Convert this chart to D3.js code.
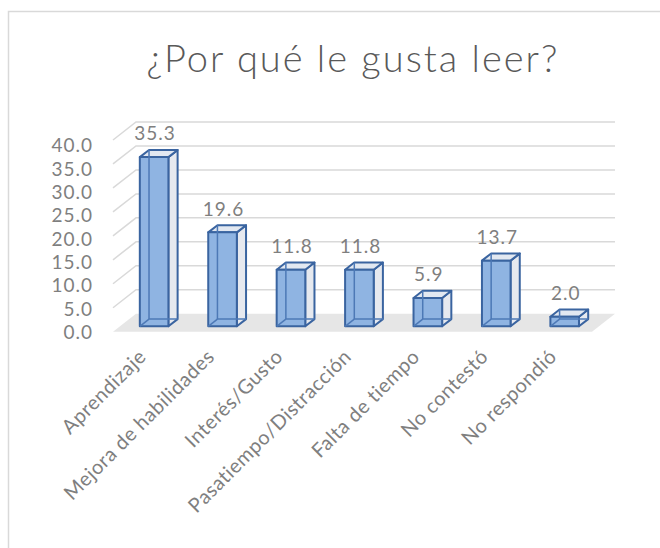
<!DOCTYPE html>
<html>
<head>
<meta charset="utf-8">
<script src="https://cdn.jsdelivr.net/npm/d3@7"></script>
<style>
  html, body { margin: 0; padding: 0; background: #fff; }
  svg { display: block; font-family: Lato, "Open Sans", sans-serif; }
</style>
</head>
<body>
<div id="chart"></div>
<script>

// chart data
const categories = ["Aprendizaje", "Mejora de habilidades", "Interés/Gusto", "Pasatiempo/Distracción",
  "Falta de tiempo", "No contestó", "No respondió"];
const values = [35.3, 19.6, 11.8, 11.8, 5.9, 13.7, 2.0];
const yTicks = [0, 5, 10, 15, 20, 25, 30, 35, 40];
const title = "¿Por qué le gusta leer?";

const W = 660, H = 548;
const textColor = "#7f7f7f";

// oblique depth of the 3D box (full depth of the floor)
const depthX = 23, depthY = -18;
const barD0 = 0.3, barD1 = 0.7;

function proj(x, y, d) {
  return [x + depthX * d, y + depthY * d];
}

function poly(points) {
  return points.map(p => p.join(",")).join(" ");
}

const svg = d3.select("#chart").append("svg")
  .attr("width", W)
  .attr("height", H);

// chart area frame
svg.append("rect")
  .attr("x", 8.5).attr("y", 11.5)
  .attr("width", 720).attr("height", 600)
  .attr("fill", "#fff")
  .attr("stroke", "#d9d9d9")
  .attr("stroke-width", 1.5);

svg.append("text")
  .attr("x", 353)
  .attr("y", 72)
  .attr("text-anchor", "middle")
  .style("font-size", "38px")
  .style("font-weight", 300)
  .style("letter-spacing", "2px")
  .style("fill", "#595959")
  .text(title);

var x = d3.scaleBand().domain(categories).range([113, 592]).paddingInner(0.582).paddingOuter(0.291);
var y = d3.scaleLinear().domain([0, 40]).range([331.7, 140]);
// the value labels of the axis sit a bit lower than the grid (3D perspective)
var yLabel = d3.scaleLinear().domain([0, 40]).range([331.7, 145]);

// floor
svg.append("polygon")
  .attr("points", poly([proj(113, y(0), 0), proj(592, y(0), 0), proj(592, y(0), 1), proj(113, y(0), 1)]))
  .attr("fill", "#e6e6e6");

// gridlines: left wall diagonal + back wall line
const grid = svg.append("g").attr("class", "grid")
  .attr("stroke", "#d9d9d9")
  .attr("stroke-width", 1.5)
  .attr("fill", "none");

yTicks.filter(t => t > 0).forEach(function (t) {
  grid.append("polyline")
    .attr("points", poly([proj(113, y(t), 0), proj(113, y(t), 1), proj(592, y(t), 1)]));
});

// y axis labels
svg.append("g")
  .attr("class", "y axis")
  .attr("transform", "translate(93,0)")
  .call(d3.axisLeft(yLabel).tickValues(yTicks).tickSize(0).tickPadding(0).tickFormat(d3.format(".1f")))
  .call(g => g.select(".domain").remove())
  .selectAll("text")
  .attr("dy", "0.36em")
  .style("font-family", "Lato, sans-serif")
  .style("font-size", "19px")
  .style("letter-spacing", "1px")
  .style("fill", textColor);

// bars
const barStroke = "#3a64a0";
const bars = svg.selectAll("g.bar")
  .data(values)
  .enter().append("g")
  .attr("class", "bar");

bars.each(function (v, i) {
  const g = d3.select(this);
  const x0 = x(categories[i]), x1 = x0 + x.bandwidth();
  const yb = y(0), yt = y(v);

  const fBL = proj(x0, yb, barD0), fBR = proj(x1, yb, barD0);
  const fTL = proj(x0, yt, barD0), fTR = proj(x1, yt, barD0);
  const bBL = proj(x0, yb, barD1), bBR = proj(x1, yb, barD1);
  const bTL = proj(x0, yt, barD1), bTR = proj(x1, yt, barD1);

  // side face
  g.append("polygon")
    .attr("points", poly([fBR, bBR, bTR, fTR]))
    .attr("fill", "#e6e9ef")
    .attr("stroke", barStroke).attr("stroke-width", 2).attr("stroke-linejoin", "round");
  // top face
  g.append("polygon")
    .attr("points", poly([fTL, fTR, bTR, bTL]))
    .attr("fill", "#e2e8f1")
    .attr("stroke", barStroke).attr("stroke-width", 2).attr("stroke-linejoin", "round");
  // front face
  g.append("polygon")
    .attr("points", poly([fBL, fBR, fTR, fTL]))
    .attr("fill", "#8fb4e2")
    .attr("stroke", barStroke).attr("stroke-width", 2).attr("stroke-linejoin", "round");
  // hidden edges seen through the glass-like bar
  g.append("polyline")
    .attr("points", poly([bTL, bBL, bBR]))
    .attr("fill", "none")
    .attr("stroke", "#4d79b6").attr("stroke-width", 1.5);
  g.append("line")
    .attr("x1", fBL[0]).attr("y1", fBL[1])
    .attr("x2", bBL[0]).attr("y2", bBL[1])
    .attr("stroke", "#4d79b6").attr("stroke-width", 1.5);

  // value label
  const c = proj((x0 + x1) / 2, yt, barD0);
  g.append("text")
    .attr("x", c[0] + 1)
    .attr("y", proj(0, yt, barD1)[1] - 9.5)
    .attr("text-anchor", "middle")
    .style("font-size", "19px")
    .style("letter-spacing", "1px")
    .style("fill", textColor)
    .text(d3.format(".1f")(v));
});

// category labels, rotated
svg.append("g")
  .attr("class", "x axis")
  .selectAll("text")
  .data(categories)
  .enter().append("text")
  .attr("transform", d => "translate(" + (x(d) + x.bandwidth() / 2) + ",358) rotate(-45)")
  .attr("text-anchor", "end")
  .style("font-size", "20px")
  .style("letter-spacing", "0.5px")
  .style("fill", textColor)
  .text(d => d);

</script>
</body>
</html>
